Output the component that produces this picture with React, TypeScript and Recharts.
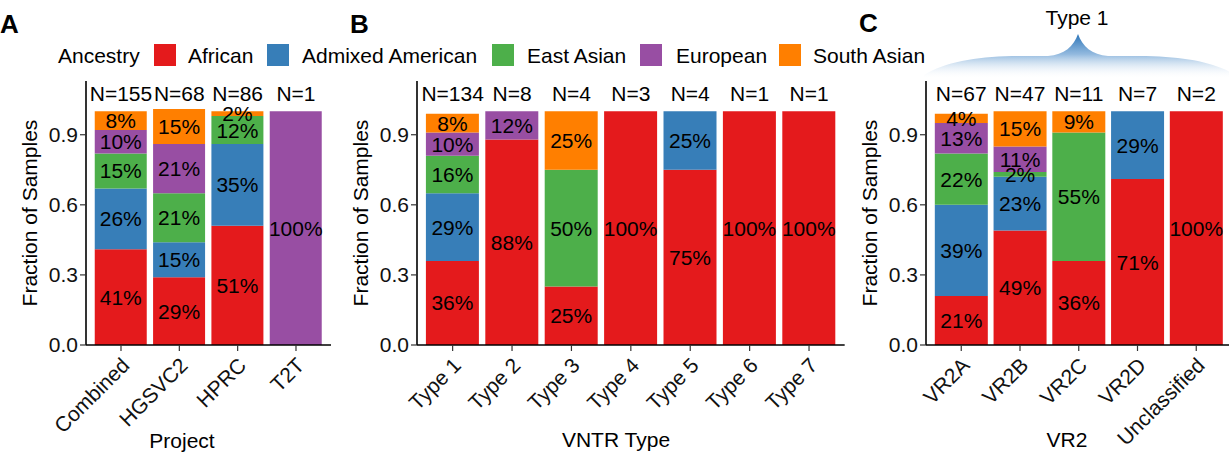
import React from 'react'
import { ComposedChart, Bar, Line, XAxis, YAxis, LabelList } from 'recharts'

const FONT = '"Liberation Sans", Arial, Helvetica, sans-serif'

const ANCESTRY = ['African', 'Admixed American', 'East Asian', 'European', 'South Asian']
const ANCESTRY_COLORS = ['#E41A1C', '#377EB8', '#4DAF4A', '#984EA3', '#FF7F00']
const SERIES_KEYS = ['african', 'admixed', 'eastAsian', 'european', 'southAsian']

// A: Project
const projectCats = ['Combined', 'HGSVC2', 'HPRC', 'T2T']
const projectN = [155, 68, 86, 1]
const projectAfrican = [41, 29, 51, 0]
const projectAdmixed = [26, 15, 35, 0]
const projectEastAsian = [15, 21, 12, 0]
const projectEuropean = [10, 21, 0, 100]
const projectSouthAsian = [8, 15, 2, 0]

// B: VNTR Type
const vntrCats = ['Type 1', 'Type 2', 'Type 3', 'Type 4', 'Type 5', 'Type 6', 'Type 7']
const vntrN = [134, 8, 4, 3, 4, 1, 1]
const vntrAfrican = [36, 88, 25, 100, 75, 100, 100]
const vntrAdmixed = [29, 0, 0, 0, 25, 0, 0]
const vntrEastAsian = [16, 0, 50, 0, 0, 0, 0]
const vntrEuropean = [10, 12, 0, 0, 0, 0, 0]
const vntrSouthAsian = [8, 0, 25, 0, 0, 0, 0]

// C: VR2
const vr2Cats = ['VR2A', 'VR2B', 'VR2C', 'VR2D', 'Unclassified']
const vr2N = [67, 47, 11, 7, 2]
const vr2African = [21, 49, 36, 71, 100]
const vr2Admixed = [39, 23, 0, 29, 0]
const vr2EastAsian = [22, 2, 55, 0, 0]
const vr2European = [13, 11, 0, 0, 0]
const vr2SouthAsian = [4, 15, 9, 0, 0]

const Y_TICKS = [0, 30, 60, 90]
const Y_MAX = 113
const N_LABEL_Y = 107.8

function buildRows(cats: string[], n: number[], series: number[][]) {
  return cats.map((cat, i) => {
    const row: Record<string, string | number> = { cat, n: n[i], nY: N_LABEL_Y }
    SERIES_KEYS.forEach((k, j) => {
      row[k] = series[j][i]
    })
    return row
  })
}

const projectRows = buildRows(projectCats, projectN, [
  projectAfrican, projectAdmixed, projectEastAsian, projectEuropean, projectSouthAsian,
])
const vntrRows = buildRows(vntrCats, vntrN, [
  vntrAfrican, vntrAdmixed, vntrEastAsian, vntrEuropean, vntrSouthAsian,
])
const vr2Rows = buildRows(vr2Cats, vr2N, [
  vr2African, vr2Admixed, vr2EastAsian, vr2European, vr2SouthAsian,
])

// eslint-disable-next-line @typescript-eslint/no-explicit-any
const SegmentLabel = (props: any) => {
  const { x, y, width, height, value } = props
  if (!value) return null
  return (
    <text
      x={Number(x) + Number(width) / 2}
      y={Number(y) + Number(height) / 2}
      textAnchor="middle"
      dominantBaseline="central"
      fontSize={21}
      fontFamily={FONT}
      fill="#000"
    >
      {value}%
    </text>
  )
}

// eslint-disable-next-line @typescript-eslint/no-explicit-any
const NLabel = (props: any) => {
  const { x, y, value } = props
  return (
    <text x={x} y={y} textAnchor="middle" dominantBaseline="central" fontSize={21} fontFamily={FONT} fill="#000">
      N={value}
    </text>
  )
}

// eslint-disable-next-line @typescript-eslint/no-explicit-any
const RotatedTick = (props: any) => {
  const { x, y, payload } = props
  return (
    <g transform={`translate(${x - 1},${y + 3})`}>
      <text x={0} y={0} dy="0.72em" textAnchor="end" transform="rotate(-45)" fontSize={21} fontFamily={FONT} fill="#111">
        {payload.value}
      </text>
    </g>
  )
}

interface PanelProps {
  left: number
  axisWidth: number
  step: number
  rows: Record<string, string | number>[]
}

function Panel({ left, axisWidth, step, rows }: PanelProps) {
  const pad = step * 0.1
  const width = axisWidth + step * (rows.length + 0.2)
  return (
    <div style={{ position: 'absolute', left, top: 0 }}>
      <ComposedChart
        width={width}
        height={454}
        data={rows}
        margin={{ top: 81, right: 0, bottom: 0, left: 0 }}
        barCategoryGap="5%"
      >
        <XAxis
          dataKey="cat"
          interval={0}
          height={109}
          padding={{ left: pad, right: pad }}
          axisLine={{ stroke: '#000', strokeWidth: 1.6 }}
          tickLine={{ stroke: '#333', strokeWidth: 1.2 }}
          tickSize={6}
          tick={<RotatedTick />}
        />
        <YAxis
          type="number"
          domain={[0, Y_MAX]}
          ticks={Y_TICKS}
          allowDataOverflow
          width={axisWidth}
          tickFormatter={(v: number) => (v / 100).toFixed(1)}
          axisLine={{ stroke: '#000', strokeWidth: 1.6 }}
          tickLine={{ stroke: '#333', strokeWidth: 1.2 }}
          tickSize={6}
          tick={{ fontSize: 21, fill: '#111', fontFamily: FONT }}
        />
        {SERIES_KEYS.map((k, i) => (
          <Bar key={k} dataKey={k} name={ANCESTRY[i]} stackId="a" fill={ANCESTRY_COLORS[i]} isAnimationActive={false}>
            <LabelList dataKey={k} content={<SegmentLabel />} />
          </Bar>
        ))}
        <Line dataKey="nY" stroke="none" dot={false} activeDot={false} isAnimationActive={false} legendType="none">
          <LabelList dataKey="n" content={<NLabel />} />
        </Line>
      </ComposedChart>
    </div>
  )
}

const LEGEND_ITEMS = [
  { swatch: 154, text: 188 },
  { swatch: 267, text: 302 },
  { swatch: 492, text: 527 },
  { swatch: 640, text: 676 },
  { swatch: 779, text: 813 },
]

function Overlay() {
  const txt = { fontFamily: FONT, fontSize: 21, fill: '#000' }
  return (
    <svg width={1229} height={454} style={{ position: 'absolute', left: 0, top: 0, pointerEvents: 'none' }}>
      <defs>
        <linearGradient id="braceFill" gradientUnits="userSpaceOnUse" x1="0" y1="34" x2="0" y2="79">
          <stop offset="0%" stopColor="#2b74b8" stopOpacity={1} />
          <stop offset="45%" stopColor="#8db6dd" stopOpacity={0.95} />
          <stop offset="100%" stopColor="#ffffff" stopOpacity={0} />
        </linearGradient>
      </defs>
      {/* panel tags */}
      <text x={0} y={33} fontFamily={FONT} fontSize={26} fontWeight="bold">A</text>
      <text x={350} y={33} fontFamily={FONT} fontSize={26} fontWeight="bold">B</text>
      <text x={859} y={32} fontFamily={FONT} fontSize={26} fontWeight="bold">C</text>

      {/* legend */}
      <text x={58} y={63} {...txt}>Ancestry</text>
      {LEGEND_ITEMS.map((it, i) => (
        <g key={ANCESTRY[i]}>
          <rect x={it.swatch} y={44} width={22} height={22} fill={ANCESTRY_COLORS[i]} />
          <text x={it.text} y={63} {...txt}>{ANCESTRY[i]}</text>
        </g>
      ))}

      {/* brace over panel C */}
      <path
        d="M 924 75 C 945 62, 975 57, 1012 56 L 1048 56 C 1064 55, 1074 46, 1078 34 C 1082 46, 1092 55, 1108 56 L 1146 56 C 1185 57, 1212 62, 1232 73 L 1232 79 L 924 79 Z"
        fill="url(#braceFill)"
      />
      <text x={1077} y={25} textAnchor="middle" {...txt}>Type 1</text>

      {/* axis titles */}
      <text x={182} y={448} textAnchor="middle" {...txt}>Project</text>
      <text x={616} y={447} textAnchor="middle" {...txt}>VNTR Type</text>
      <text x={1067} y={447} textAnchor="middle" {...txt}>VR2</text>
      {[29, 360, 869].map((x) => (
        <text
          key={x}
          x={x}
          y={213}
          textAnchor="middle"
          dominantBaseline="central"
          transform={`rotate(-90 ${x} 213)`}
          {...txt}
        >
          Fraction of Samples
        </text>
      ))}
    </svg>
  )
}

export default function App() {
  return (
    <div
      style={{
        position: 'absolute',
        left: 0,
        top: 0,
        width: 1229,
        height: 454,
        overflow: 'hidden',
        background: '#fff',
        fontFamily: FONT,
      }}
    >
      <Panel left={0} axisWidth={86} step={58.33} rows={projectRows} />
      <Panel left={340} axisWidth={77} step={59.4} rows={vntrRows} />
      <Panel left={850} axisWidth={76} step={58.75} rows={vr2Rows} />
      <Overlay />
    </div>
  )
}
